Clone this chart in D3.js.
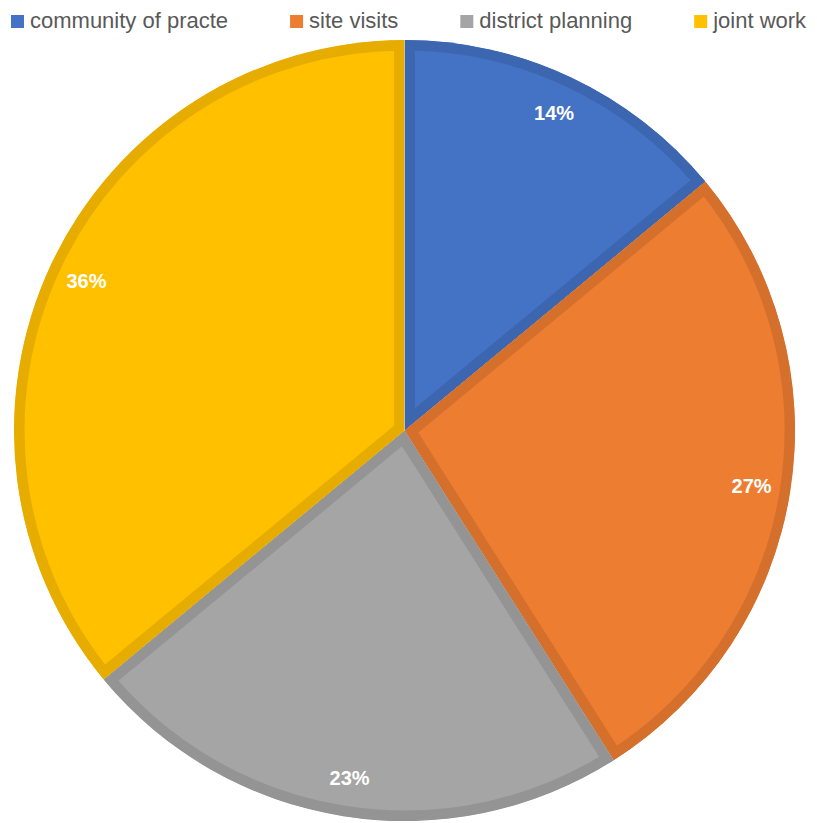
<!DOCTYPE html>
<html>
<head>
<meta charset="utf-8">
<script src="https://cdn.jsdelivr.net/npm/d3@7"></script>
<style>
  html, body { margin: 0; padding: 0; background: #ffffff; }
  svg { display: block; }
</style>
</head>
<body>
<svg id="chart" width="817" height="823"></svg>
<script>
// Share of activities, in percent
const categories = ["community of practe", "site visits", "district planning", "joint work"];
const shares = [14, 27, 23, 36];
const fillColors = ["#4472C4", "#ED7D31", "#A5A5A5", "#FFC000"];
const edgeColors = ["#3D66B1", "#D5702C", "#949494", "#E6AC00"];

const cx = 404.5, cy = 430.5, radius = 390.5;
const edgeWidth = 21; // half of the stroke lands inside each slice

const svg = d3.select("#chart");
const data = categories.map((name, i) => ({ name, value: shares[i], i }));

const pie = d3.pie().value(d => d.value).sort(null).startAngle(0).endAngle(2 * Math.PI);
const arcs = pie(data);
const arc = d3.arc().innerRadius(0).outerRadius(radius);
const labelArc = d3.arc().innerRadius(radius * 0.9).outerRadius(radius * 0.9);

const color = d3.scaleOrdinal().domain(categories).range(fillColors);
const edge = d3.scaleOrdinal().domain(categories).range(edgeColors);

// Each slice clips its own stroke so the border sits inside the slice
const defs = svg.append("defs");
defs.selectAll("clipPath")
  .data(arcs)
  .join("clipPath")
  .attr("id", d => "slice-clip-" + d.data.i)
  .append("path")
  .attr("d", arc);

const pieLayer = svg.append("g").attr("transform", `translate(${cx},${cy})`);

pieLayer.selectAll("path.slice")
  .data(arcs)
  .join("path")
  .attr("class", "slice")
  .attr("d", arc)
  .attr("fill", d => color(d.data.name))
  .attr("stroke", d => edge(d.data.name))
  .attr("stroke-width", edgeWidth)
  .attr("clip-path", d => `url(#slice-clip-${d.data.i})`);

// Percentage labels
const total = d3.sum(shares);
pieLayer.selectAll("text")
  .data(arcs)
  .join("text")
  .attr("transform", d => `translate(${labelArc.centroid(d)})`)
  .attr("text-anchor", "middle")
  .attr("dy", "0.36em")
  .attr("fill", "#ffffff")
  .attr("font-family", "'Liberation Sans', Arial, sans-serif")
  .attr("font-weight", "bold")
  .attr("font-size", 20)
  .text(d => Math.round(d.data.value / total * 100) + "%");

// Legend across the top
const legend = svg.append("g").attr("class", "legend");
const swatch = 13, textGap = 19, itemGap = 62;
let x = 11;
data.forEach(d => {
  const item = legend.append("g").attr("transform", `translate(${x},0)`);
  item.append("rect")
    .attr("x", 0).attr("y", 15)
    .attr("width", swatch).attr("height", swatch)
    .attr("fill", color(d.name));
  const t = item.append("text")
    .attr("x", textGap).attr("y", 28)
    .attr("fill", "#595959")
    .attr("font-family", "'Liberation Sans', Arial, sans-serif")
    .attr("font-size", 22)
    .text(d.name);
  x += textGap + t.node().getComputedTextLength() + itemGap;
});
</script>
</body>
</html>
